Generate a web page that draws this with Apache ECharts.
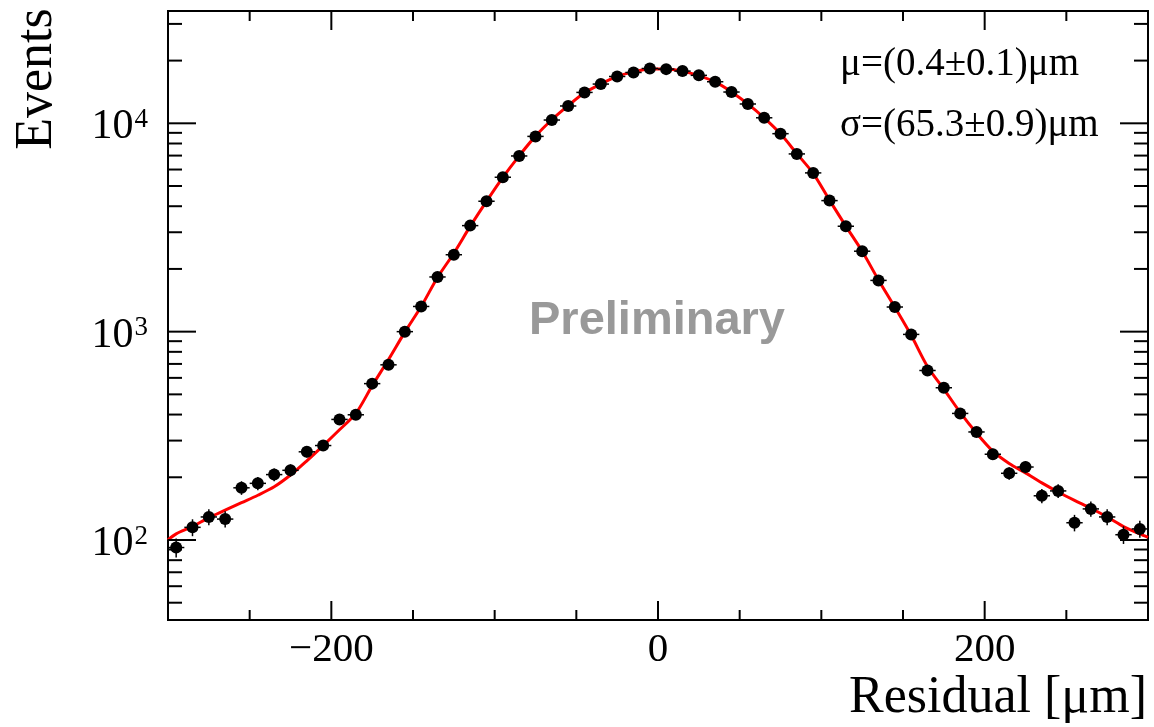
<!DOCTYPE html>
<html><head><meta charset="utf-8">
<script src="https://cdn.jsdelivr.net/npm/echarts@6/dist/echarts.min.js"></script>
<style>html,body{margin:0;padding:0;background:#fff}#c{width:1154px;height:727px}</style>
</head><body><div id="c"></div>
<script>
// ---- data ----
const binCenters = [-295,-285,-275,-265,-255,-245,-235,-225,-215,-205,-195,-185,-175,-165,-155,-145,-135,-125,-115,-105,-95,-85,-75,-65,-55,-45,-35,-25,-15,-5,5,15,25,35,45,55,65,75,85,95,105,115,125,135,145,155,165,175,185,195,205,215,225,235,245,255,265,275,285,295];
const counts = [92,115,129,126,178,187,206,216,265,284,379,399,563,693,1000,1321,1830,2340,3228,4226,5509,6970,8654,10370,12110,14070,15430,16780,17540,18330,18200,17810,16990,15830,14130,12380,10630,8917,7129,5781,4256,3206,2433,1762,1313,970,651,538,405,330,258,209,224,163,172,121,141,129,106,113];
const binHalfWidth = 5;
const fitX = [-300,-295,-285,-275,-265,-255,-245,-235,-225,-215,-205,-195,-185,-175,-165,-155,-145,-135,-125,-115,-105,-95,-85,-75,-65,-55,-45,-35,-25,-15,-5,5,15,25,35,45,55,65,75,85,95,105,115,125,135,145,155,165,175,185,195,205,215,225,235,245,255,265,275,285,295,300];
const fitY = [100,107,116,128,139,151,164,180,205,240,284,338,405,550,735,995,1320,1820,2380,3200,4220,5500,6980,8680,10400,12150,14000,15450,16800,17650,18250,18250,17800,16950,15800,14150,12400,10620,8900,7150,5750,4280,3210,2430,1770,1310,960,680,530,410,326,267,233,210,188,170,155,142,129,116,107,103];
const xMajorTicks = [-200, 0, 200];
const xMinorTicks = [-250,-150,-100,-50,50,100,150,250];
const yMajorTicks = [100, 1000, 10000];
const yMinorTicks = [50,60,70,80,90,200,300,400,500,600,700,800,900,2000,3000,4000,5000,6000,7000,8000,9000,20000,30000];
const fitTexts = ['μ=(0.4±0.1)μm', 'σ=(65.3±0.9)μm'];
const xTitle = 'Residual [μm]';
const yTitle = 'Events';
const watermark = 'Preliminary';

const SERIF = '"Liberation Serif","DejaVu Serif",serif';
const chart = echarts.init(document.getElementById('c'), null, {renderer:'canvas'});

function fmtX(v){
  if (xMajorTicks.indexOf(v) < 0) return '';
  return v < 0 ? '\u2212' + (-v) : String(v);
}
function fmtY(v){
  const l = Math.log10(v);
  const r = Math.round(l);
  if (Math.abs(l - r) > 1e-6) return '';
  return '{b|10}{s|' + r + '}';
}

const xTickData = xMajorTicks.map(v => [v, 1000, 1]).concat(xMinorTicks.map(v => [v, 1000, 0]));
const yTickData = yMajorTicks.map(v => [0, v, 1]).concat(yMinorTicks.map(v => [0, v, 0]));

const option = {
  animation: false,
  backgroundColor: '#fff',
  grid: {left:168, right:6, top:11, bottom:107, show:true, borderColor:'#000', borderWidth:2, backgroundColor:'transparent'},
  xAxis: {
    type:'value', min:-300, max:300, interval:50,
    axisLine:{show:false}, axisTick:{show:false}, splitLine:{show:false},
    axisLabel:{formatter:fmtX, fontFamily:SERIF, fontSize:41, color:'#000', margin:10, hideOverlap:false}
  },
  yAxis: {
    type:'log', logBase:10, min:41.3, max:34600,
    axisLine:{show:false}, axisTick:{show:false}, splitLine:{show:false}, minorTick:{show:false},
    axisLabel:{formatter:fmtY, margin:20, hideOverlap:false, padding:[8,0,0,0],
      rich:{
        b:{fontFamily:SERIF, fontSize:42, color:'#000', verticalAlign:'bottom', lineHeight:42},
        s:{fontFamily:SERIF, fontSize:27, color:'#000', verticalAlign:'top', padding:[0,0,10,1]}
      }}
  },
  series: [
    {
      type:'line', data: fitX.map((x,i)=>[x, fitY[i]]), smooth:0.3, showSymbol:false,
      lineStyle:{color:'#ff0000', width:3}, z:2, silent:true
    },
    {
      type:'custom', z:3, silent:true,
      data: binCenters.map((x,i)=>[x, counts[i], Math.sqrt(counts[i])]),
      renderItem(params, api){
        const x=api.value(0), y=api.value(1), e=api.value(2);
        const l=api.coord([x-binHalfWidth,y]), r=api.coord([x+binHalfWidth,y]);
        const t=api.coord([x,y+e]), b=api.coord([x,y-e]);
        return {type:'group', children:[
          {type:'line', shape:{x1:l[0],y1:l[1],x2:r[0],y2:r[1]}, style:{stroke:'#000', lineWidth:1.5}},
          {type:'line', shape:{x1:t[0],y1:t[1],x2:b[0],y2:b[1]}, style:{stroke:'#000', lineWidth:1.5}}
        ]};
      }
    },
    {
      type:'scatter', z:4, silent:true, symbol:'circle', symbolSize:12,
      itemStyle:{color:'#000', opacity:1},
      data: binCenters.map((x,i)=>[x, counts[i]])
    },
    {
      type:'custom', z:5, silent:true, clip:false, data:xTickData,
      renderItem(params, api){
        const cs=params.coordSys;
        const x=api.coord([api.value(0), 1000])[0];
        const len = api.value(2) ? 19 : 10;
        const yb = cs.y + cs.height, yt = cs.y;
        return {type:'group', children:[
          {type:'line', shape:{x1:x,y1:yb,x2:x,y2:yb-len}, style:{stroke:'#000', lineWidth:2}},
          {type:'line', shape:{x1:x,y1:yt,x2:x,y2:yt+len}, style:{stroke:'#000', lineWidth:2}}
        ]};
      }
    },
    {
      type:'custom', z:5, silent:true, clip:false, data:yTickData,
      renderItem(params, api){
        const cs=params.coordSys;
        const y=api.coord([0, api.value(1)])[1];
        const len = api.value(2) ? 28 : 14;
        const xl = cs.x, xr = cs.x + cs.width;
        return {type:'group', children:[
          {type:'line', shape:{x1:xl,y1:y,x2:xl+len,y2:y}, style:{stroke:'#000', lineWidth:2}},
          {type:'line', shape:{x1:xr,y1:y,x2:xr-len,y2:y}, style:{stroke:'#000', lineWidth:2}}
        ]};
      }
    }
  ],
  graphic: [
    {type:'text', x:37, y:79, rotation:Math.PI/2, silent:true,
     style:{text:yTitle, font:'52px ' + SERIF, fill:'#000', textAlign:'center', textVerticalAlign:'middle'}},
    {type:'text', x:1147, y:698, silent:true,
     style:{text:xTitle, font:'52px ' + SERIF, fill:'#000', textAlign:'right', textVerticalAlign:'middle'}},
    {type:'text', x:840, y:65, silent:true,
     style:{text:fitTexts[0], font:'39px ' + SERIF, fill:'#000', textAlign:'left', textVerticalAlign:'middle'}},
    {type:'text', x:840, y:126, silent:true,
     style:{text:fitTexts[1], font:'39px ' + SERIF, fill:'#000', textAlign:'left', textVerticalAlign:'middle'}},
    {type:'text', x:657, y:321, silent:true,
     style:{text:watermark, font:'bold 47px "Liberation Sans", Arial, sans-serif', fill:'#999999', textAlign:'center', textVerticalAlign:'middle'}}
  ]
};
chart.setOption(option);
</script>
</body></html>
